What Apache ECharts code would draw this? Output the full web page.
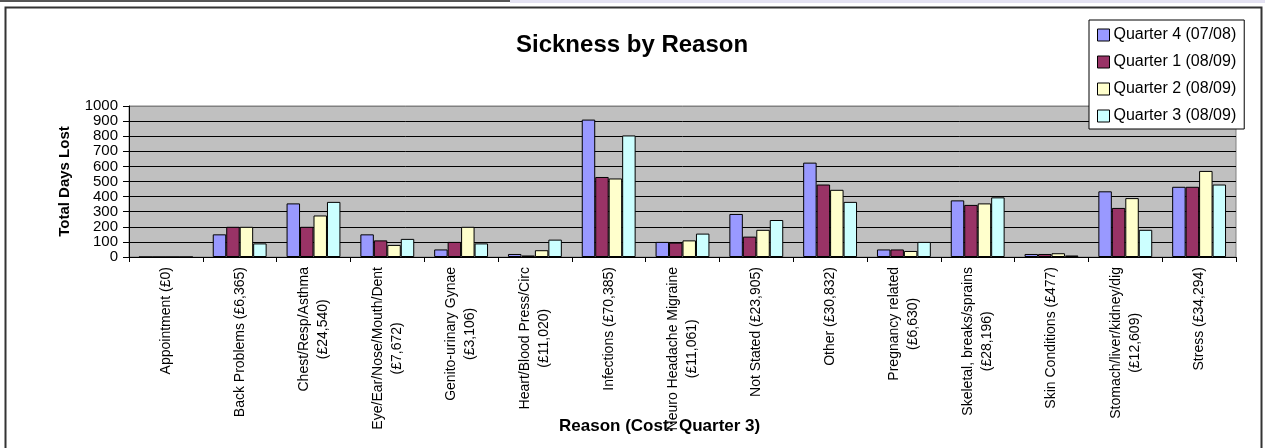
<!DOCTYPE html>
<html>
<head>
<meta charset="utf-8">
<title>Sickness by Reason</title>
<script src="https://cdn.jsdelivr.net/npm/echarts@6/dist/echarts.min.js"></script>
<style>
  html, body { margin: 0; padding: 0; background: #ffffff; }
  #chart { width: 1265px; height: 448px; }
</style>
</head>
<body>
<div id="chart"></div>
<script>
// Reasons for absence, with the cost for Quarter 3 shown under each name
const categories = [
  'Appointment (£0)',
  'Back Problems (£6,365)',
  'Chest/Resp/Asthma\n(£24,540)',
  'Eye/Ear/Nose/Mouth/Dent\n(£7,672)',
  'Genito-urinary Gynae\n(£3,106)',
  'Heart/Blood Press/Circ\n(£11,020)',
  'Infections (£70,385)',
  'Neuro Headache Migraine\n(£11,061)',
  'Not Stated (£23,905)',
  'Other (£30,832)',
  'Pregnancy related\n(£6,630)',
  'Skeletal, breaks/sprains\n(£28,196)',
  'Skin Conditions (£477)',
  'Stomach/liver/kidney/dig\n(£12,609)',
  'Stress (£34,294)'
];

const seriesNames = ['Quarter 4 (07/08)', 'Quarter 1 (08/09)', 'Quarter 2 (08/09)', 'Quarter 3 (08/09)'];

// Total days lost per reason, one array per quarter
const quarter4_0708 = [0, 150, 355, 150, 50, 20, 910, 100, 285, 625, 50, 375, 20, 435, 465];
const quarter1_0809 = [0, 200, 200, 110, 100, 10, 530, 95, 135, 480, 50, 345, 20, 325, 465];
const quarter2_0809 = [0, 200, 275, 80, 200, 45, 520, 110, 180, 445, 40, 355, 25, 390, 570];
const quarter3_0809 = [0, 90, 365, 120, 90, 115, 805, 155, 245, 365, 100, 395, 10, 180, 480];

// Value axis ticks
const yMin = 0;
const yMax = 1000;
const yStep = 100;

const seriesColors = ['#9999FF', '#993366', '#FFFFCC', '#CCFFFF'];
const seriesData = [quarter4_0708, quarter1_0809, quarter2_0809, quarter3_0809];

const FONT = '"Liberation Sans", Arial, Helvetica, sans-serif';

// Grid lines: black, except the top one which sits on the grey plot border
const splitColors = [];
for (let v = yMin; v <= yMax; v += yStep) {
  splitColors.push(v === yMax ? '#808080' : '#000000');
}

const chart = echarts.init(document.getElementById('chart'), null, { renderer: 'canvas' });

chart.setOption({
  animation: false,
  backgroundColor: '#ffffff',
  textStyle: { fontFamily: FONT, color: '#000' },
  title: [
    {
      text: 'Sickness by Reason',
      left: 516,
      top: 33,
      padding: 0,
      textStyle: { fontFamily: FONT, fontSize: 24, fontWeight: 'bold', color: '#000' }
    },
    {
      text: 'Reason (Cost: Quarter 3)',
      left: 559,
      top: 418,
      padding: 0,
      textStyle: { fontFamily: FONT, fontSize: 17, fontWeight: 'bold', color: '#000' }
    }
  ],
  legend: {
    orient: 'vertical',
    left: 1089,
    top: 20,
    width: 150,
    padding: [7, 8, 5, 8],
    itemGap: 11,
    itemWidth: 12,
    itemHeight: 12,
    icon: 'rect',
    backgroundColor: '#ffffff',
    borderColor: '#000000',
    borderWidth: 1,
    borderRadius: 0,
    itemStyle: { borderColor: '#000', borderWidth: 1 },
    textStyle: { fontFamily: FONT, fontSize: 16, color: '#000', padding: [0, 0, 0, -1] },
    data: seriesNames
  },
  grid: {
    left: 129,
    right: 29,
    top: 106,
    bottom: 191,
    containLabel: false,
    outerBoundsMode: 'none',
    show: true,
    backgroundColor: '#C0C0C0',
    borderColor: '#808080',
    borderWidth: 1
  },
  xAxis: {
    type: 'category',
    data: categories,
    boundaryGap: true,
    axisLine: { show: true, lineStyle: { color: '#000', width: 1 } },
    axisTick: { show: true, inside: false, length: 5, alignWithLabel: false, interval: 0, lineStyle: { color: '#000', width: 1 } },
    splitLine: { show: false },
    axisLabel: {
      interval: 0,
      rotate: 90,
      margin: 10,
      color: '#000',
      fontFamily: FONT,
      fontSize: 14,
      formatter: function (value) {
        return value.split('\n').map(function (line) { return '{c|' + line + '}'; }).join('\n');
      },
      rich: {
        c: { align: 'center', fontFamily: FONT, fontSize: 14, lineHeight: 19, color: '#000' }
      }
    }
  },
  yAxis: {
    type: 'value',
    min: yMin,
    max: yMax,
    interval: yStep,
    name: 'Total Days Lost',
    nameLocation: 'middle',
    nameGap: 57,
    nameRotate: 90,
    nameTextStyle: { fontFamily: FONT, fontSize: 15, fontWeight: 'bold', color: '#000' },
    axisLine: { show: true, lineStyle: { color: '#000', width: 1 } },
    axisTick: { show: true, inside: false, length: 6, lineStyle: { color: '#000', width: 1 } },
    axisLabel: {
      color: '#000',
      fontFamily: FONT,
      fontSize: 15,
      margin: 11,
      formatter: function (v) { return String(v); }
    },
    splitLine: { show: true, lineStyle: { color: splitColors, width: 1 } }
  },
  series: seriesNames.map(function (name, i) {
    return {
      name: name,
      type: 'bar',
      data: seriesData[i],
      barGap: '0%',
      barCategoryGap: '27%',
      itemStyle: { color: seriesColors[i], borderColor: '#000', borderWidth: 1 },
      emphasis: { disabled: true }
    };
  }),
  graphic: [
    // thin strip along the top edge of the page
    { type: 'rect', shape: { x: 0, y: 0, width: 510, height: 2 }, style: { fill: '#555555' }, silent: true },
    { type: 'rect', shape: { x: 510, y: 0, width: 755, height: 3 }, style: { fill: '#E4E2F2' }, silent: true },
    // frame around the whole chart
    { type: 'rect', shape: { x: 5.5, y: 7.5, width: 1256, height: 450 }, style: { fill: 'none', stroke: '#333333', lineWidth: 2 }, silent: true, z: 100 }
  ]
});
</script>
</body>
</html>
